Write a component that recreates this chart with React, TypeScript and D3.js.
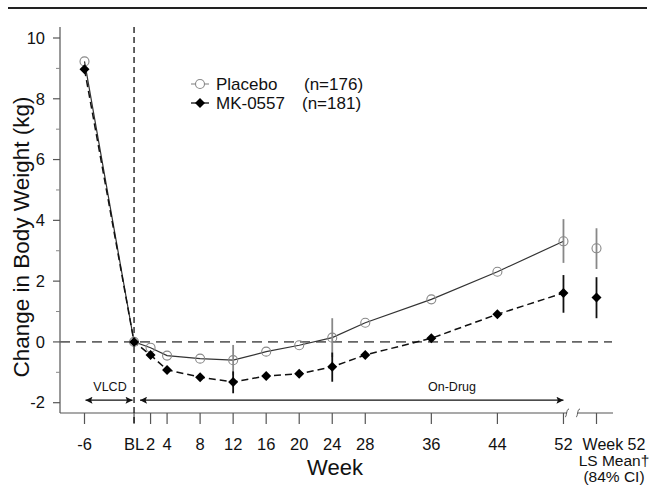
import React from "react";
import * as d3 from "d3";

const weeks = [-6, 0, 2, 4, 8, 12, 16, 20, 24, 28, 36, 44, 52];
const placebo = [9.23, 0, -0.19, -0.45, -0.55, -0.6, -0.32, -0.11, 0.14, 0.63, 1.4, 2.31, 3.31];
const mk0557 = [8.97, 0, -0.43, -0.92, -1.16, -1.32, -1.12, -1.05, -0.82, -0.43, 0.12, 0.91, 1.61];

const ciWeeks = [12, 24, 52];
const placeboLo = [-1.1, -0.5, 2.6];
const placeboHi = [-0.1, 0.78, 4.04];
const mkLo = [-1.69, -1.31, 0.96];
const mkHi = [-0.97, -0.35, 2.2];

const lsWeek = 56;
const lsPlacebo = [3.08, 2.4, 3.74];
const lsMk = [1.46, 0.78, 2.13];

const xTickVals = [-6, 0, 2, 4, 8, 12, 16, 20, 24, 28, 36, 44, 52, 56];
const xTickLabels = ["-6", "BL", "2", "4", "8", "12", "16", "20", "24", "28", "36", "44", "52", ""];
const yMajor = [-2, 0, 2, 4, 6, 8, 10];
const yMinor = [-1, 1, 3, 5, 7, 9];

const FONT = "Arial, 'Liberation Sans', Helvetica, sans-serif";

export default function App() {
  const x = d3.scaleLinear().domain([-6, 56]).range([84.5, 596.5]);
  const y = d3.scaleLinear().domain([-2, 10]).range([402.7, 38]);

  const axisLeft = 60;
  const axisBottom = 413;
  const axisRight = 613;
  const axisTop = 27;

  const line = d3
    .line<number>()
    .x((_, i) => x(weeks[i]))
    .y((d) => y(d));

  const diamond = (cx: number, cy: number, r: number) =>
    `M${cx},${cy - r}L${cx + r},${cy}L${cx},${cy + r}L${cx - r},${cy}Z`;

  const arrowY = y(-2) - 2.5;
  const breakX1 = 567;
  const breakX2 = 578;

  const textColor = "#111";
  const axisColor = "#555";

  return (
    <svg
      width={650}
      height={487}
      style={{ position: "absolute", left: 0, top: 0, background: "#fff" }}
      fontFamily={FONT}
    >
      <defs>
        <marker id="ah" viewBox="0 0 10 10" refX="10" refY="5" markerWidth="9" markerHeight="7" orient="auto-start-reverse" markerUnits="userSpaceOnUse">
          <path d="M0,0L10,5L0,10L2,5Z" fill="#111" />
        </marker>
      </defs>
      {/* top rule */}
      <line x1={8} x2={647} y1={8} y2={8} stroke="#222" strokeWidth={2} />

      {/* axes */}
      <line x1={axisLeft} x2={axisLeft} y1={axisTop} y2={axisBottom} stroke={axisColor} strokeWidth={1.2} />
      <line x1={axisLeft} x2={breakX1} y1={axisBottom} y2={axisBottom} stroke={axisColor} strokeWidth={1.2} />
      <line x1={breakX2} x2={axisRight} y1={axisBottom} y2={axisBottom} stroke={axisColor} strokeWidth={1.2} />
      {[breakX1, breakX2].map((bx, i) => (
        <path
          key={i}
          d={`M${bx - 2},${axisBottom + 4} C${bx},${axisBottom + 4} ${bx - 1},${axisBottom - 4} ${bx + 2},${axisBottom - 4}`}
          fill="none"
          stroke={axisColor}
          strokeWidth={1}
        />
      ))}

      {/* y ticks */}
      {yMajor.map((v) => (
        <g key={"ym" + v}>
          <line x1={axisLeft - 7} x2={axisLeft} y1={y(v)} y2={y(v)} stroke={axisColor} strokeWidth={1.2} />
          <text x={45} y={y(v)} dy="0.35em" textAnchor="end" fontSize={16.5} fill={textColor}>
            {v}
          </text>
        </g>
      ))}
      {yMinor.map((v) => (
        <line key={"yn" + v} x1={axisLeft - 4} x2={axisLeft} y1={y(v)} y2={y(v)} stroke="#888" strokeWidth={1} />
      ))}

      {/* x ticks */}
      {xTickVals.map((v, i) => (
        <g key={"xt" + v}>
          <line x1={x(v)} x2={x(v)} y1={axisBottom} y2={axisBottom + 11} stroke={axisColor} strokeWidth={1.2} />
          <text x={x(v)} y={444} dy="0.35em" textAnchor="middle" fontSize={16.5} fill={textColor}>
            {xTickLabels[i]}
          </text>
        </g>
      ))}
      <text x={614} y={444} dy="0.35em" textAnchor="middle" fontSize={16} fill={textColor}>
        Week 52
      </text>
      <text x={614} y={460.5} dy="0.35em" textAnchor="middle" fontSize={15.5} fill={textColor}>
        LS Mean†
      </text>
      <text x={614} y={477} dy="0.35em" textAnchor="middle" fontSize={15.5} fill={textColor}>
        (84% CI)
      </text>

      {/* axis titles */}
      <text x={335} y={467} dy="0.35em" textAnchor="middle" fontSize={22} fill={textColor}>
        Week
      </text>
      <text
        transform={`translate(21,${237}) rotate(-90)`}
        textAnchor="middle"
        dy="0.35em"
        fontSize={22.5}
        fill={textColor}
      >
        Change in Body Weight (kg)
      </text>

      {/* reference lines */}
      <line x1={axisLeft} x2={612} y1={y(0)} y2={y(0)} stroke="#666" strokeWidth={1.8} strokeDasharray="10,6" />
      <line x1={x(0)} x2={x(0)} y1={axisTop} y2={axisBottom + 11} stroke="#111" strokeWidth={1.3} strokeDasharray="6,4" />

      {/* period arrows */}
      <line x1={x(-6) + 1} x2={x(0) - 1.5} y1={arrowY} y2={arrowY} stroke="#111" strokeWidth={1.3} markerStart="url(#ah)" markerEnd="url(#ah)" />
      <text x={110} y={387} dy="0.35em" textAnchor="middle" fontSize={12.5} fill={textColor}>
        VLCD
      </text>
      <line x1={x(0) + 6} x2={x(52)} y1={arrowY} y2={arrowY} stroke="#111" strokeWidth={1.3} markerStart="url(#ah)" markerEnd="url(#ah)" />
      <text x={452} y={387} dy="0.35em" textAnchor="middle" fontSize={12.5} fill={textColor}>
        On-Drug
      </text>

      {/* series lines */}
      <path d={line(placebo) || ""} fill="none" stroke="#333" strokeWidth={1.2} />
      <path d={line(mk0557) || ""} fill="none" stroke="#111" strokeWidth={1.5} strokeDasharray="7,4" />

      {/* error bars */}
      {ciWeeks.map((w, i) => (
        <line key={"pe" + w} x1={x(w)} x2={x(w)} y1={y(placeboLo[i])} y2={y(placeboHi[i])} stroke="#888" strokeWidth={1.8} />
      ))}
      {ciWeeks.map((w, i) => (
        <line key={"me" + w} x1={x(w)} x2={x(w)} y1={y(mkLo[i])} y2={y(mkHi[i])} stroke="#111" strokeWidth={1.8} />
      ))}
      <line x1={x(lsWeek)} x2={x(lsWeek)} y1={y(lsPlacebo[1])} y2={y(lsPlacebo[2])} stroke="#888" strokeWidth={1.8} />
      <line x1={x(lsWeek)} x2={x(lsWeek)} y1={y(lsMk[1])} y2={y(lsMk[2])} stroke="#111" strokeWidth={1.8} />

      {/* markers */}
      {weeks.map((w, i) => (
        <circle key={"pc" + w} cx={x(w)} cy={y(placebo[i])} r={4.5} fill="none" stroke="#888" strokeWidth={1.1} />
      ))}
      <circle cx={x(lsWeek)} cy={y(lsPlacebo[0])} r={4.5} fill="none" stroke="#888" strokeWidth={1.1} />
      {weeks.map((w, i) => (
        <path key={"md" + w} d={diamond(x(w), y(mk0557[i]), 5)} fill="#000" />
      ))}
      <path d={diamond(x(lsWeek), y(lsMk[0]), 5)} fill="#000" />

      {/* legend */}
      <line x1={191} x2={209} y1={84} y2={84} stroke="#888" strokeWidth={1.1} />
      <circle cx={200} cy={84} r={4.5} fill="#fff" stroke="#888" strokeWidth={1.1} />
      <text x={216} y={84} dy="0.35em" fontSize={17} fill={textColor}>Placebo</text>
      <text x={304} y={84} dy="0.35em" fontSize={17} fill={textColor}>(n=176)</text>
      <line x1={191} x2={209} y1={103} y2={103} stroke="#111" strokeWidth={1.3} />
      <path d={diamond(200, 103, 5)} fill="#000" />
      <text x={216} y={103} dy="0.35em" fontSize={17} fill={textColor}>MK-0557</text>
      <text x={302} y={103} dy="0.35em" fontSize={17} fill={textColor}>(n=181)</text>
    </svg>
  );
}
